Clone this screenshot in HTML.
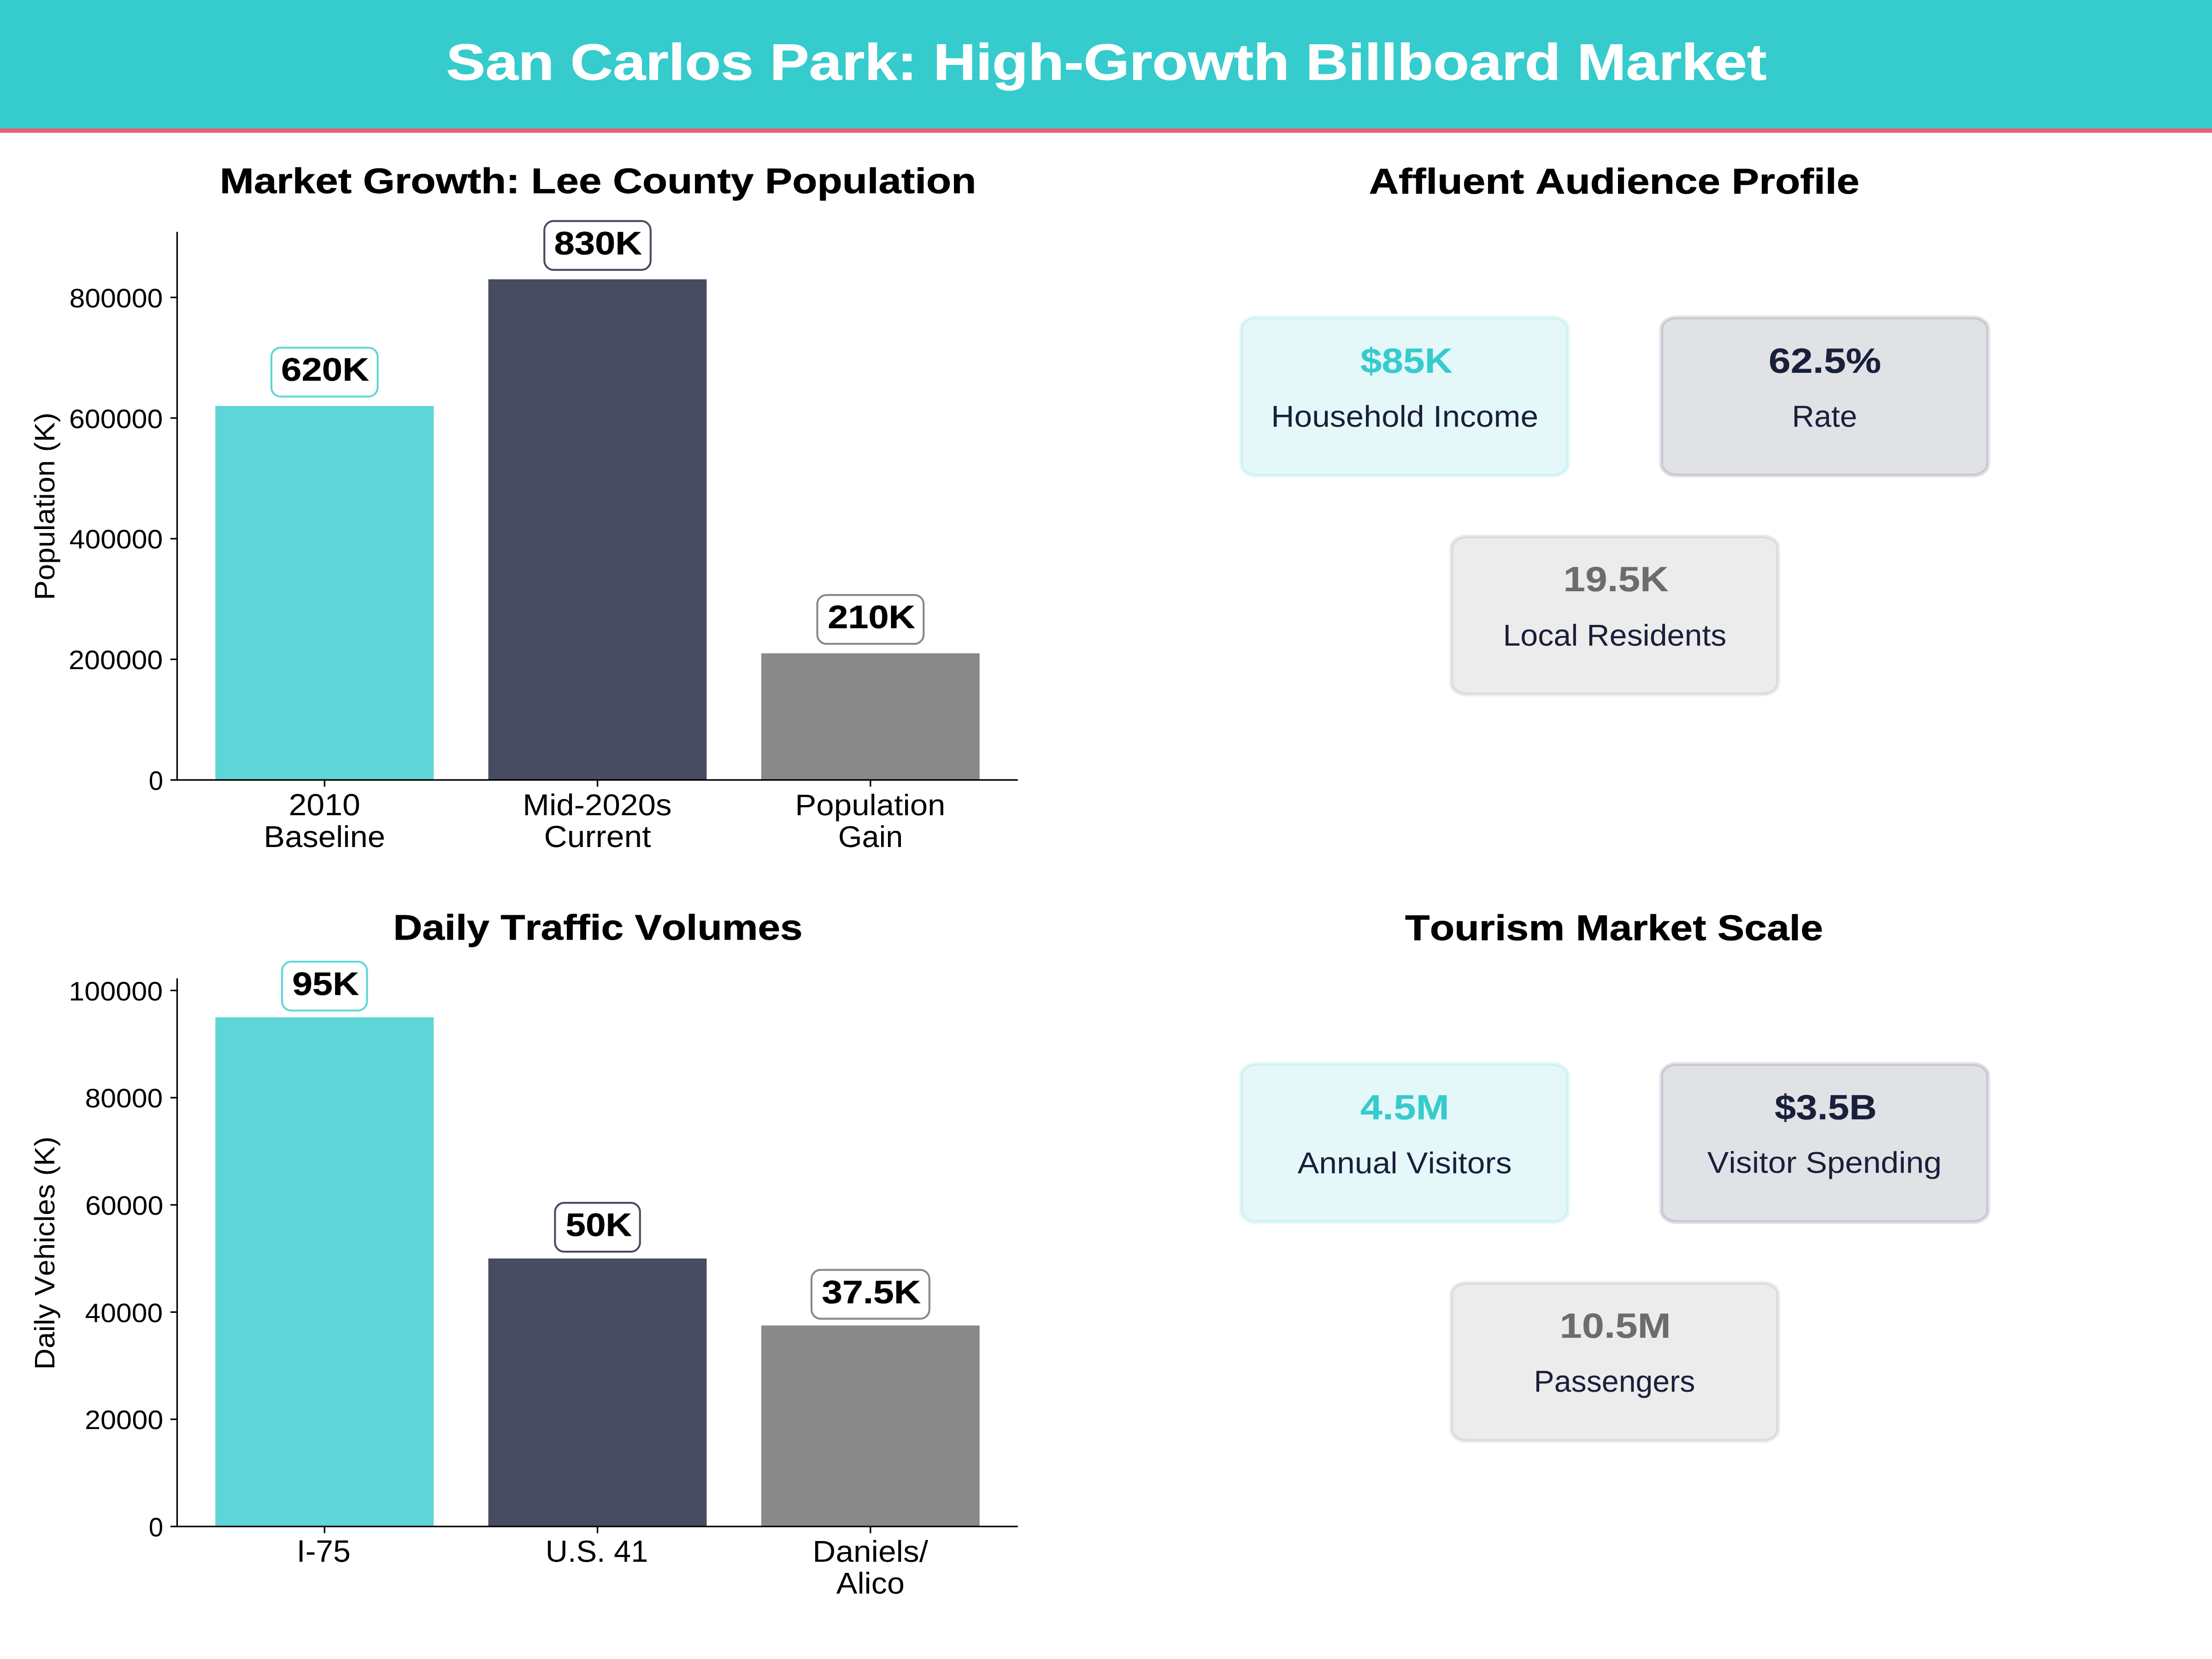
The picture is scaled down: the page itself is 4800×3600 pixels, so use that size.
<!DOCTYPE html>
<html><head><meta charset="utf-8"><title>San Carlos Park: High-Growth Billboard Market</title>
<style>
html,body{margin:0;padding:0;background:#ffffff;width:4800px;height:3600px;overflow:hidden}
svg{display:block}
text{font-family:"Liberation Sans", sans-serif;font-kerning:none;font-variant-ligatures:none;text-rendering:geometricPrecision;white-space:pre}
</style></head><body>
<svg width="4800" height="3600" viewBox="0 0 4800 3600">
<rect x="0" y="0" width="4800" height="3600" fill="#ffffff"/>
<rect x="0" y="0" width="4800" height="280" fill="#36cbcd"/>
<rect x="0" y="279" width="4800" height="9.2" fill="#f05d72"/>
<rect x="467.32" y="880.98" width="473.84" height="811.52" fill="#5ed5d7"/>
<rect x="1059.63" y="606.11" width="473.84" height="1086.39" fill="#484c61"/>
<rect x="1651.93" y="1417.63" width="473.84" height="274.87" fill="#898989"/>
<rect x="467.32" y="2207.46" width="473.84" height="1104.99" fill="#5ed5d7"/>
<rect x="1059.63" y="2730.88" width="473.84" height="581.57" fill="#484c61"/>
<rect x="1651.93" y="2876.27" width="473.84" height="436.18" fill="#898989"/>
<rect x="382.73" y="503.10" width="3.33" height="1191.07" fill="#000"/>
<rect x="382.73" y="1690.83" width="1825.97" height="3.33" fill="#000"/>
<rect x="702.58" y="1692.50" width="3.33" height="14.58" fill="#000"/>
<rect x="1294.88" y="1692.50" width="3.33" height="14.58" fill="#000"/>
<rect x="1887.19" y="1692.50" width="3.33" height="14.58" fill="#000"/>
<rect x="369.82" y="1690.83" width="14.58" height="3.33" fill="#000"/>
<rect x="369.82" y="1429.05" width="14.58" height="3.33" fill="#000"/>
<rect x="369.82" y="1167.27" width="14.58" height="3.33" fill="#000"/>
<rect x="369.82" y="905.49" width="14.58" height="3.33" fill="#000"/>
<rect x="369.82" y="643.71" width="14.58" height="3.33" fill="#000"/>
<rect x="382.73" y="2123.05" width="3.33" height="1191.07" fill="#000"/>
<rect x="382.73" y="3310.78" width="1825.97" height="3.33" fill="#000"/>
<rect x="702.58" y="3312.45" width="3.33" height="14.58" fill="#000"/>
<rect x="1294.88" y="3312.45" width="3.33" height="14.58" fill="#000"/>
<rect x="1887.19" y="3312.45" width="3.33" height="14.58" fill="#000"/>
<rect x="369.82" y="3310.78" width="14.58" height="3.33" fill="#000"/>
<rect x="369.82" y="3078.15" width="14.58" height="3.33" fill="#000"/>
<rect x="369.82" y="2845.52" width="14.58" height="3.33" fill="#000"/>
<rect x="369.82" y="2612.89" width="14.58" height="3.33" fill="#000"/>
<rect x="369.82" y="2380.27" width="14.58" height="3.33" fill="#000"/>
<rect x="369.82" y="2147.64" width="14.58" height="3.33" fill="#000"/>
<rect x="588.93" y="754.48" width="230.62" height="106.00" rx="20.00" ry="20.00" fill="#fff" stroke="#5ed5d7" stroke-width="4.17"/>
<rect x="1181.24" y="479.61" width="230.62" height="106.00" rx="20.00" ry="20.00" fill="#fff" stroke="#484c61" stroke-width="4.17"/>
<rect x="1773.48" y="1291.13" width="230.75" height="106.00" rx="20.00" ry="20.00" fill="#fff" stroke="#898989" stroke-width="4.17"/>
<rect x="612.06" y="2086.76" width="184.38" height="106.00" rx="20.00" ry="20.00" fill="#fff" stroke="#5ed5d7" stroke-width="4.17"/>
<rect x="1204.36" y="2610.18" width="184.38" height="106.00" rx="20.00" ry="20.00" fill="#fff" stroke="#484c61" stroke-width="4.17"/>
<rect x="1760.92" y="2755.57" width="255.88" height="106.00" rx="20.00" ry="20.00" fill="#fff" stroke="#898989" stroke-width="4.17"/>
<rect x="2693.15" y="688.90" width="709.30" height="343.00" rx="33" ry="25" fill="#36CBCD" fill-opacity="0.13" stroke="#36CBCD" stroke-opacity="0.13" stroke-width="8.33"/>
<rect x="3604.95" y="688.90" width="709.30" height="343.00" rx="33" ry="25" fill="#1A1F3A" fill-opacity="0.13" stroke="#1A1F3A" stroke-opacity="0.13" stroke-width="8.33"/>
<rect x="3149.25" y="1163.80" width="709.30" height="343.00" rx="33" ry="25" fill="#6C6C6C" fill-opacity="0.13" stroke="#6C6C6C" stroke-opacity="0.13" stroke-width="8.33"/>
<rect x="2693.15" y="2308.90" width="709.30" height="343.00" rx="33" ry="25" fill="#36CBCD" fill-opacity="0.13" stroke="#36CBCD" stroke-opacity="0.13" stroke-width="8.33"/>
<rect x="3604.95" y="2308.90" width="709.30" height="343.00" rx="33" ry="25" fill="#1A1F3A" fill-opacity="0.13" stroke="#1A1F3A" stroke-opacity="0.13" stroke-width="8.33"/>
<rect x="3149.25" y="2783.80" width="709.30" height="343.00" rx="33" ry="25" fill="#6C6C6C" fill-opacity="0.13" stroke="#6C6C6C" stroke-opacity="0.13" stroke-width="8.33"/>
<text transform="translate(968.30 173.47) scale(1.2764 1.1099)" font-size="100" font-weight="bold" fill="#FFFFFF" stroke="#FFFFFF" stroke-width="0.90" vector-effect="non-scaling-stroke" stroke-linejoin="round">San Carlos Park: High-Growth Billboard Market</text>
<text transform="translate(118.29 1302.27) rotate(-90) scale(0.6427 0.6109)" font-size="100" font-weight="normal" fill="#000000">Population (K)</text>
<text transform="translate(477.06 418.95) scale(0.8872 0.7717)" font-size="100" font-weight="bold" fill="#000000" stroke="#000000" stroke-width="1.00" vector-effect="non-scaling-stroke" stroke-linejoin="round">Market Growth: Lee County Population</text>
<text transform="translate(610.05 826.29) scale(0.7981 0.7062)" font-size="100" font-weight="bold" fill="#000000" stroke="#000000" stroke-width="0.70" vector-effect="non-scaling-stroke" stroke-linejoin="round">620K</text>
<text transform="translate(1202.45 552.22) scale(0.7964 0.7052)" font-size="100" font-weight="bold" fill="#000000" stroke="#000000" stroke-width="0.70" vector-effect="non-scaling-stroke" stroke-linejoin="round">830K</text>
<text transform="translate(1796.22 1363.29) scale(0.7932 0.7062)" font-size="100" font-weight="bold" fill="#000000" stroke="#000000" stroke-width="0.70" vector-effect="non-scaling-stroke" stroke-linejoin="round">210K</text>
<text transform="translate(118.29 2972.26) rotate(-90) scale(0.6415 0.6109)" font-size="100" font-weight="normal" fill="#000000">Daily Vehicles (K)</text>
<text transform="translate(853.15 2038.95) scale(0.8736 0.7717)" font-size="100" font-weight="bold" fill="#000000" stroke="#000000" stroke-width="1.00" vector-effect="non-scaling-stroke" stroke-linejoin="round">Daily Traffic Volumes</text>
<text transform="translate(634.24 2159.29) scale(0.7881 0.7062)" font-size="100" font-weight="bold" fill="#000000" stroke="#000000" stroke-width="0.70" vector-effect="non-scaling-stroke" stroke-linejoin="round">95K</text>
<text transform="translate(1227.58 2682.29) scale(0.7808 0.7062)" font-size="100" font-weight="bold" fill="#000000" stroke="#000000" stroke-width="0.70" vector-effect="non-scaling-stroke" stroke-linejoin="round">50K</text>
<text transform="translate(1783.15 2828.22) scale(0.8046 0.7052)" font-size="100" font-weight="bold" fill="#000000" stroke="#000000" stroke-width="0.70" vector-effect="non-scaling-stroke" stroke-linejoin="round">37.5K</text>
<text transform="translate(2970.77 420.22) scale(0.8910 0.7755)" font-size="100" font-weight="bold" fill="#000000" stroke="#000000" stroke-width="1.00" vector-effect="non-scaling-stroke" stroke-linejoin="round">Affluent Audience Profile</text>
<text transform="translate(2951.91 809.24) scale(0.8365 0.7627)" font-size="100" font-weight="bold" fill="#36CBCD" stroke="#36CBCD" stroke-width="0.30" vector-effect="non-scaling-stroke" stroke-linejoin="round">$85K</text>
<text transform="translate(2758.30 926.35) scale(0.6953 0.6531)" font-size="100" font-weight="normal" fill="#1A1F3A">Household Income</text>
<text transform="translate(3837.81 809.24) scale(0.8622 0.7627)" font-size="100" font-weight="bold" fill="#1A1F3A" stroke="#1A1F3A" stroke-width="0.30" vector-effect="non-scaling-stroke" stroke-linejoin="round">62.5%</text>
<text transform="translate(3888.51 926.34) scale(0.6697 0.6590)" font-size="100" font-weight="normal" fill="#1A1F3A">Rate</text>
<text transform="translate(3392.61 1283.24) scale(0.8555 0.7627)" font-size="100" font-weight="bold" fill="#6C6C6C" stroke="#6C6C6C" stroke-width="0.30" vector-effect="non-scaling-stroke" stroke-linejoin="round">19.5K</text>
<text transform="translate(3261.41 1401.35) scale(0.6817 0.6531)" font-size="100" font-weight="normal" fill="#1A1F3A">Local Residents</text>
<text transform="translate(3049.03 2040.22) scale(0.8774 0.7755)" font-size="100" font-weight="bold" fill="#000000" stroke="#000000" stroke-width="1.00" vector-effect="non-scaling-stroke" stroke-linejoin="round">Tourism Market Scale</text>
<text transform="translate(2951.70 2429.24) scale(0.8688 0.7593)" font-size="100" font-weight="bold" fill="#36CBCD" stroke="#36CBCD" stroke-width="0.30" vector-effect="non-scaling-stroke" stroke-linejoin="round">4.5M</text>
<text transform="translate(2815.86 2546.35) scale(0.6966 0.6531)" font-size="100" font-weight="normal" fill="#1A1F3A">Annual Visitors</text>
<text transform="translate(3850.92 2429.24) scale(0.8314 0.7627)" font-size="100" font-weight="bold" fill="#1A1F3A" stroke="#1A1F3A" stroke-width="0.30" vector-effect="non-scaling-stroke" stroke-linejoin="round">$3.5B</text>
<text transform="translate(3704.65 2545.40) scale(0.6987 0.6538)" font-size="100" font-weight="normal" fill="#1A1F3A">Visitor Spending</text>
<text transform="translate(3384.53 2903.24) scale(0.8683 0.7627)" font-size="100" font-weight="bold" fill="#6C6C6C" stroke="#6C6C6C" stroke-width="0.30" vector-effect="non-scaling-stroke" stroke-linejoin="round">10.5M</text>
<text transform="translate(3328.57 3020.30) scale(0.6624 0.6585)" font-size="100" font-weight="normal" fill="#1A1F3A">Passengers</text>
<text transform="translate(626.51 1769.34) scale(0.6979 0.6638)" font-size="100" font-weight="normal" fill="#000000">2010</text>
<text transform="translate(572.36 1838.35) scale(0.6873 0.6531)" font-size="100" font-weight="normal" fill="#000000">Baseline</text>
<text transform="translate(1134.32 1769.35) scale(0.6922 0.6531)" font-size="100" font-weight="normal" fill="#000000">Mid-2020s</text>
<text transform="translate(1180.45 1838.34) scale(0.6958 0.6638)" font-size="100" font-weight="normal" fill="#000000">Current</text>
<text transform="translate(1725.34 1768.62) scale(0.6901 0.6431)" font-size="100" font-weight="normal" fill="#000000">Population</text>
<text transform="translate(1818.67 1838.35) scale(0.6660 0.6531)" font-size="100" font-weight="normal" fill="#000000">Gain</text>
<text transform="translate(322.80 1714.42) scale(0.5649 0.5791)" font-size="100" font-weight="normal" fill="#000000">0</text>
<text transform="translate(148.94 1452.42) scale(0.6127 0.5791)" font-size="100" font-weight="normal" fill="#000000">200000</text>
<text transform="translate(150.60 1190.42) scale(0.6076 0.5791)" font-size="100" font-weight="normal" fill="#000000">400000</text>
<text transform="translate(149.89 929.42) scale(0.6098 0.5791)" font-size="100" font-weight="normal" fill="#000000">600000</text>
<text transform="translate(150.38 667.42) scale(0.6083 0.5791)" font-size="100" font-weight="normal" fill="#000000">800000</text>
<text transform="translate(643.75 3389.33) scale(0.6797 0.6734)" font-size="100" font-weight="normal" fill="#000000">I-75</text>
<text transform="translate(1183.87 3389.34) scale(0.6669 0.6638)" font-size="100" font-weight="normal" fill="#000000">U.S. 41</text>
<text transform="translate(1763.31 3389.34) scale(0.6939 0.6531)" font-size="100" font-weight="normal" fill="#000000">Daniels/</text>
<text transform="translate(1814.86 3458.35) scale(0.6830 0.6531)" font-size="100" font-weight="normal" fill="#000000">Alico</text>
<text transform="translate(322.80 3334.42) scale(0.5649 0.5791)" font-size="100" font-weight="normal" fill="#000000">0</text>
<text transform="translate(183.94 3101.42) scale(0.6129 0.5791)" font-size="100" font-weight="normal" fill="#000000">20000</text>
<text transform="translate(184.60 2869.42) scale(0.6068 0.5791)" font-size="100" font-weight="normal" fill="#000000">40000</text>
<text transform="translate(184.89 2636.42) scale(0.6094 0.5791)" font-size="100" font-weight="normal" fill="#000000">60000</text>
<text transform="translate(184.39 2403.42) scale(0.6076 0.5791)" font-size="100" font-weight="normal" fill="#000000">80000</text>
<text transform="translate(149.35 2171.42) scale(0.6114 0.5791)" font-size="100" font-weight="normal" fill="#000000">100000</text>
</svg>
</body></html>
